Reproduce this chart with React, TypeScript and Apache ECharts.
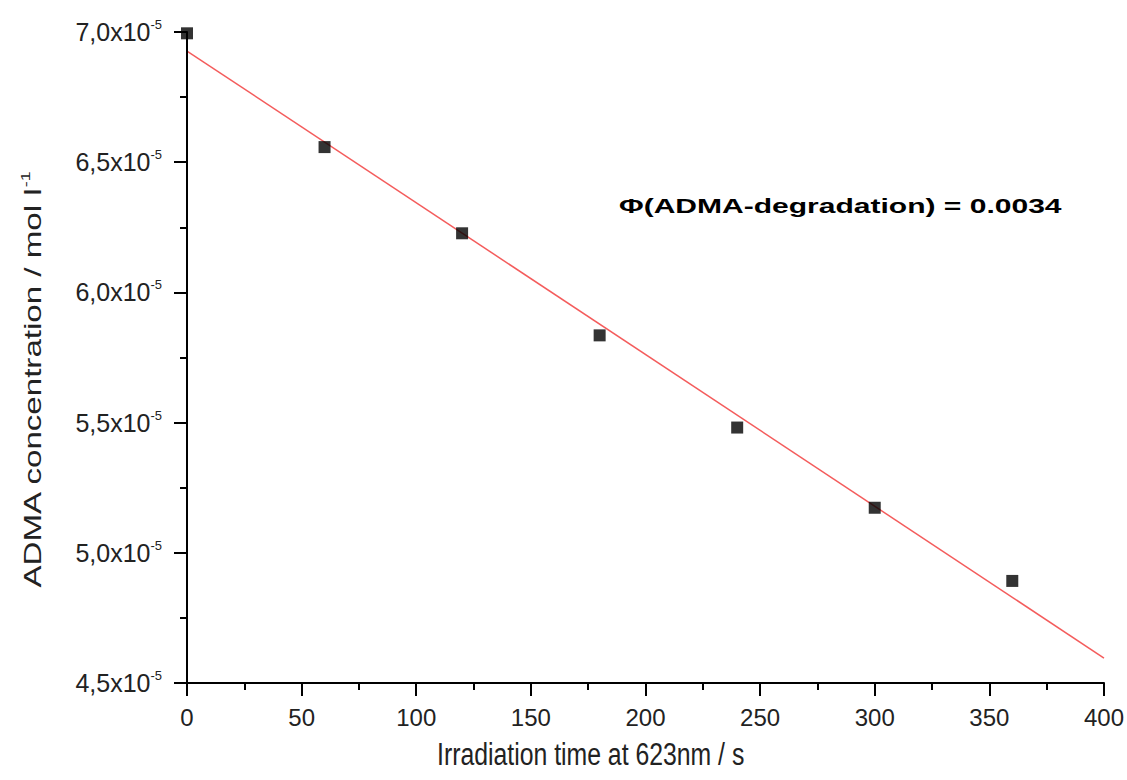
import React, { useEffect, useRef } from "react";
import * as echarts from "echarts";

// Irradiation time (s)
const times = [0, 60, 120, 180, 240, 300, 360];
// ADMA concentration, in units of 10^-5 mol/l
const concentrations = [6.995, 6.558, 6.227, 5.835, 5.481, 5.173, 4.892];
// Linear fit endpoints (x in s, y in 10^-5 mol/l)
const fitX = [0, 400];
const fitY = [6.927, 4.596];
const yTicks = [4.5, 5.0, 5.5, 6.0, 6.5, 7.0];
const xTitle = "Irradiation time at 623nm / s";
const yTitle = "ADMA concentration / mol l";
const annotation = "Φ(ADMA-degradation) = 0.0034";

export default function App() {
  const ref = useRef<HTMLDivElement>(null);
  useEffect(() => {
    if (!ref.current) return;
    const chart = echarts.init(ref.current, null, { renderer: "svg" });
    const font = "Liberation Sans, Arial, sans-serif";
    chart.setOption({
      animation: false,
      backgroundColor: "#ffffff",
      grid: { left: 187, right: 22, top: 32, bottom: 97, containLabel: false },
      xAxis: {
        type: "value",
        min: 0,
        max: 400,
        interval: 50,
        z: 3,
        axisLine: { show: true, onZero: false, lineStyle: { color: "#000", width: 2 } },
        axisTick: { show: true, inside: false, length: 13, lineStyle: { color: "#000", width: 2 } },
        minorTick: { show: true, splitNumber: 2, length: 7, lineStyle: { color: "#000", width: 2 } },
        splitLine: { show: false },
        axisLabel: { color: "#222", fontSize: 24, fontFamily: font, margin: 22 },
      },
      yAxis: {
        type: "value",
        min: 4.5,
        max: 7.0,
        interval: 0.5,
        z: 3,
        axisLine: { show: true, onZero: false, lineStyle: { color: "#000", width: 2 } },
        axisTick: { show: true, inside: false, length: 13, lineStyle: { color: "#000", width: 2 } },
        minorTick: { show: true, splitNumber: 2, length: 7, lineStyle: { color: "#000", width: 2 } },
        splitLine: { show: false },
        axisLabel: {
          margin: 25,
          formatter: (v: number) => {
            const match = yTicks.find((t) => Math.abs(t - v) < 1e-9);
            if (match === undefined) return "";
            return "{b|" + match.toFixed(1).replace(".", ",") + "x10}{s|-5}";
          },
          rich: {
            b: { color: "#222", fontSize: 25, fontFamily: font },
            s: { color: "#222", fontSize: 13, fontFamily: font, padding: [0, 0, 15, 0] },
          },
        },
      },
      series: [
        {
          type: "line",
          data: fitX.map((x, i) => [x, fitY[i]]),
          symbol: "none",
          lineStyle: { color: "#f45c5c", width: 1.5 },
          z: 1,
        },
        {
          type: "scatter",
          data: times.map((t, i) => [t, concentrations[i]]),
          symbol: "rect",
          symbolSize: 12,
          itemStyle: { color: "#000" },
          z: 2,
        },
      ],
      graphic: [
        {
          type: "text",
          x: 437,
          y: 755,
          scaleX: 0.8,
          style: {
            text: xTitle,
            fontSize: 31,
            fontFamily: font,
            fill: "#222",
            align: "left",
            verticalAlign: "middle",
          },
        },
        {
          type: "group",
          x: 33,
          y: 380,
          rotation: Math.PI / 2,
          children: [
            {
              type: "text",
              x: 0,
              y: 0,
              scaleX: 1.38,
              style: {
                text: "{m|" + yTitle + "}{s|-1}",
                align: "center",
                verticalAlign: "middle",
                rich: {
                  m: { fontSize: 24, fontFamily: font, fill: "#222", color: "#222" },
                  s: { fontSize: 13, fontFamily: font, fill: "#222", color: "#222", padding: [0, 0, 15, 0] },
                },
              },
            },
          ],
        },
        {
          type: "text",
          x: 619,
          y: 206,
          scaleX: 1.43,
          style: {
            text: annotation,
            fontSize: 21,
            fontWeight: "bold",
            fontFamily: font,
            fill: "#000",
            align: "left",
            verticalAlign: "middle",
          },
        },
      ],
    });
    return () => chart.dispose();
  }, []);
  return (
    <div
      ref={ref}
      style={{ position: "fixed", left: 0, top: 0, width: 1127, height: 780 }}
    />
  );
}
